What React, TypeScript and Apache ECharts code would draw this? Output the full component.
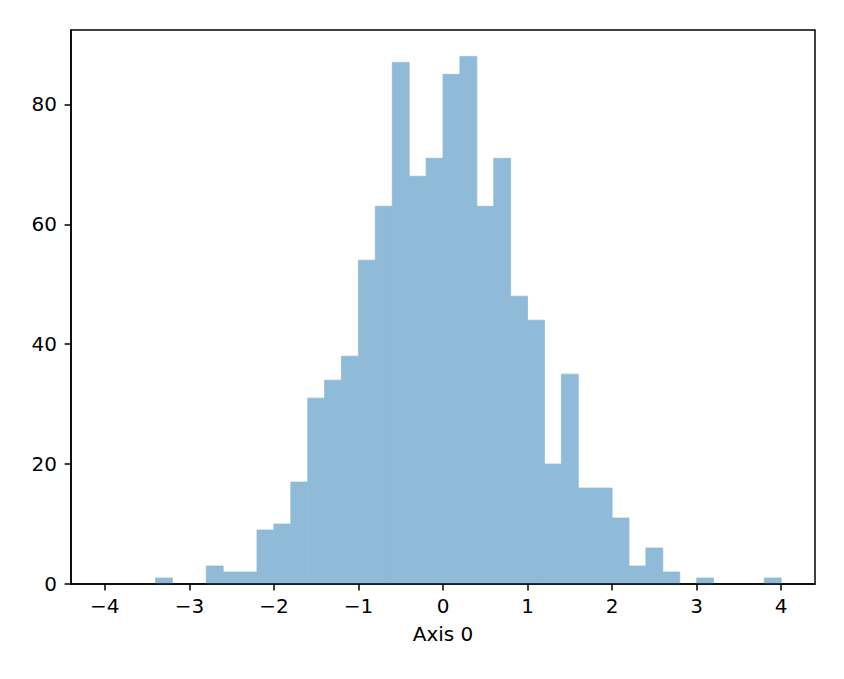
import React, { useEffect, useRef } from "react";
import * as echarts from "echarts";

const binStart = -4.0;
const binWidth = 0.2;
const counts = [
  0, 0, 0, 1, 0, 0, 3, 2, 2, 9,
  10, 17, 31, 34, 38, 54, 63, 87, 68, 71,
  85, 88, 63, 71, 48, 44, 20, 35, 16, 16,
  11, 3, 6, 2, 0, 1, 0, 0, 0, 1,
];
const xTicks = [-4, -3, -2, -1, 0, 1, 2, 3, 4];
const yTicks = [0, 20, 40, 60, 80];
const xName = "Axis 0";

const FONT = "DejaVu Sans";
const FS = 20;
const BAR = "#8fbbd9";

export default function App() {
  const ref = useRef<HTMLDivElement>(null);
  useEffect(() => {
    if (!ref.current) return;
    const chart = echarts.init(ref.current, undefined, { renderer: "svg" });
    const data = counts.map((c, i) => {
      const x0 = Math.round((binStart + i * binWidth) * 1000) / 1000;
      return [x0, Math.round((x0 + binWidth) * 1000) / 1000, c];
    });
    const fmt = (v: number) => (v < 0 ? "\u2212" + String(-v) : String(v));
    chart.setOption({
      animation: false,
      backgroundColor: "#ffffff",
      grid: {
        left: 71,
        right: 29,
        top: 30,
        bottom: 95,
        show: true,
        borderColor: "#000",
        borderWidth: 1.5,
        backgroundColor: "transparent",
        z: 3,
      },
      xAxis: {
        type: "value",
        min: -4.4,
        max: 4.4,
        name: xName,
        nameLocation: "middle",
        nameGap: 40,
        nameTextStyle: { fontFamily: FONT, fontSize: FS, color: "#000" },
        axisLine: { show: true, onZero: false, lineStyle: { color: "#000", width: 1.5 } },
        axisTick: {
          show: true,
          inside: false,
          length: 6.4,
          lineStyle: { color: "#000", width: 1.5 },
          customValues: xTicks,
        },
        axisLabel: {
          margin: 12,
          fontFamily: FONT,
          fontSize: FS,
          color: "#000",
          customValues: xTicks,
          formatter: fmt,
        },
        splitLine: { show: false },
      },
      yAxis: {
        type: "value",
        min: 0,
        max: 92.4,
        axisLine: { show: true, onZero: false, lineStyle: { color: "#000", width: 1.5 } },
        axisTick: {
          show: true,
          inside: false,
          length: 6.4,
          lineStyle: { color: "#000", width: 1.5 },
          customValues: yTicks,
        },
        axisLabel: {
          margin: 14,
          fontFamily: FONT,
          fontSize: FS,
          color: "#000",
          customValues: yTicks,
        },
        splitLine: { show: false },
      },
      series: [
        {
          type: "custom",
          data,
          encode: { x: [0, 1], y: 2 },
          renderItem: (params: any, api: any) => {
            const x0 = api.value(0);
            const x1 = api.value(1);
            const h = api.value(2);
            if (!h) return { type: "group", children: [] };
            const p0 = api.coord([x0, h]);
            const p1 = api.coord([x1, 0]);
            return {
              type: "rect",
              shape: { x: p0[0], y: p0[1], width: p1[0] - p0[0], height: p1[1] - p0[1] },
              style: { fill: BAR, stroke: BAR, lineWidth: 0.8 },
            };
          },
          z: 1,
        },
      ],
    });
    return () => chart.dispose();
  }, []);
  return (
    <div
      ref={ref}
      style={{ position: "fixed", left: 0, top: 0, width: 844, height: 679, background: "#fff" }}
    />
  );
}
